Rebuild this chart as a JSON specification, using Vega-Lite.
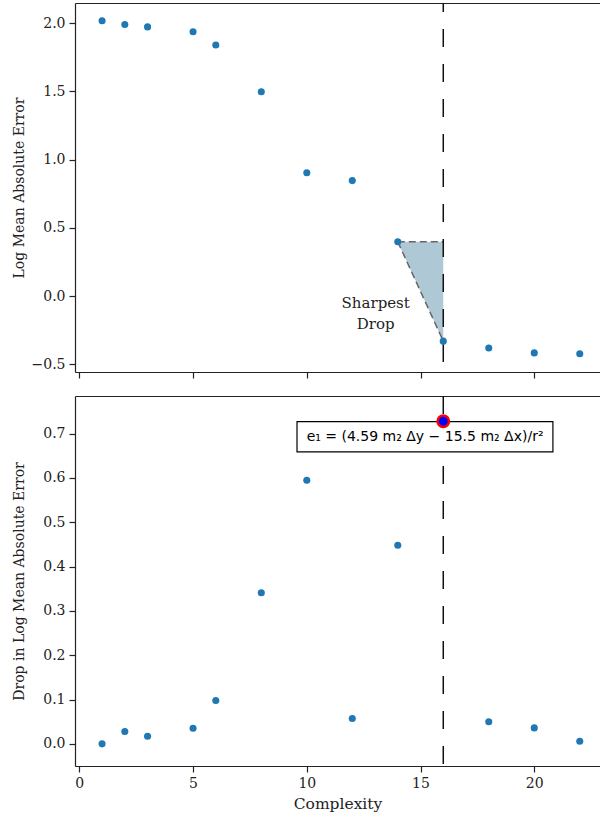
{
  "$schema": "https://vega.github.io/schema/vega-lite/v6.json",
  "padding": {"left": 12, "top": 2, "right": 0, "bottom": 0},
  "background": "white",
  "datasets": {
    "pts": [
      {"complexity": 1, "lmae": 2.017, "drop": 0.0},
      {"complexity": 2, "lmae": 1.989, "drop": 0.028},
      {"complexity": 3, "lmae": 1.972, "drop": 0.017},
      {"complexity": 5, "lmae": 1.937, "drop": 0.035},
      {"complexity": 6, "lmae": 1.839, "drop": 0.098},
      {"complexity": 8, "lmae": 1.497, "drop": 0.341},
      {"complexity": 10, "lmae": 0.903, "drop": 0.595},
      {"complexity": 12, "lmae": 0.846, "drop": 0.057},
      {"complexity": 14, "lmae": 0.398, "drop": 0.448},
      {"complexity": 16, "lmae": -0.33, "drop": 0.728},
      {"complexity": 18, "lmae": -0.38, "drop": 0.05},
      {"complexity": 20, "lmae": -0.416, "drop": 0.036},
      {"complexity": 22, "lmae": -0.422, "drop": 0.006}
    ]
  },
  "config": {
    "font": "DejaVu Serif",
    "view": {"stroke": null},
    "axis": {
      "labelFont": "DejaVu Serif",
      "titleFont": "DejaVu Serif",
      "labelFontSize": 14,
      "titleFontSize": 14,
      "titleFontWeight": "normal",
      "labelColor": "#222",
      "titleColor": "#222",
      "domainColor": "#222",
      "domainWidth": 1.2,
      "tickColor": "#222",
      "tickWidth": 1.2,
      "tickSize": 6,
      "labelPadding": 4,
      "grid": false
    }
  },
  "spacing": 16,
  "vconcat": [
    {
      "width": 525,
      "height": 369,
      "resolve": {"scale": {"x": "shared", "y": "shared"}, "axis": {"x": "independent"}},
      "layer": [
        {
          "data": {"values": [
            {"complexity": 14, "y": 0.398, "y2": 0.398},
            {"complexity": 16, "y": -0.33, "y2": 0.398}
          ]},
          "mark": {"type": "area", "color": "#aec8d6", "opacity": 1},
          "encoding": {
            "x": {"field": "complexity", "type": "quantitative", "axis": {"orient": "top", "ticks": false, "labels": false, "title": null, "domain": true}},
            "y": {"field": "y", "type": "quantitative"},
            "y2": {"field": "y2"}
          }
        },
        {
          "data": {"values": [
            {"seg": "top", "complexity": 14, "y": 0.398},
            {"seg": "top", "complexity": 16, "y": 0.398},
            {"seg": "hyp", "complexity": 14, "y": 0.398},
            {"seg": "hyp", "complexity": 16, "y": -0.33}
          ]},
          "mark": {"type": "line", "color": "#666", "strokeWidth": 1.5, "strokeDash": [7, 4]},
          "encoding": {
            "x": {"field": "complexity", "type": "quantitative", "axis": null},
            "y": {"field": "y", "type": "quantitative"},
            "detail": {"field": "seg"}
          }
        },
        {
          "data": {"values": [{"complexity": 16}]},
          "mark": {"type": "rule", "color": "#111", "strokeWidth": 1.5, "strokeDash": [18, 17], "strokeDashOffset": 9},
          "encoding": {"x": {"field": "complexity", "type": "quantitative", "axis": null}}
        },
        {
          "data": {"name": "pts"},
          "mark": {"type": "circle", "color": "#1f77b4", "opacity": 1, "size": 50},
          "encoding": {
            "x": {"field": "complexity", "type": "quantitative",
                  "scale": {"domain": [-0.19, 22.89], "nice": false, "zero": false},
                  "axis": {"title": null, "labels": false, "values": [0, 5, 10, 15, 20]}},
            "y": {"field": "lmae", "type": "quantitative",
                  "scale": {"domain": [-0.556, 2.147], "nice": false, "zero": false},
                  "axis": {"title": "Log Mean Absolute Error", "titleFontSize": 14, "titleFont": "DejaVu Serif", "values": [-0.5, 0, 0.5, 1, 1.5, 2], "format": ".1f", "titlePadding": 5}}
          }
        },
        {
          "data": {"values": [{"complexity": 13.03, "y": -0.05, "label": ["Sharpest", "Drop"]}]},
          "mark": {"type": "text", "font": "DejaVu Serif", "fontSize": 15, "align": "center", "baseline": "middle", "color": "#222", "lineHeight": 21},
          "encoding": {
            "x": {"field": "complexity", "type": "quantitative", "axis": null},
            "y": {"field": "y", "type": "quantitative"},
            "text": {"field": "label"}
          }
        }
      ]
    },
    {
      "width": 525,
      "height": 370,
      "resolve": {"scale": {"x": "shared", "y": "shared"}, "axis": {"x": "independent"}},
      "layer": [
        {
          "data": {"values": [{"complexity": 16}]},
          "mark": {"type": "rule", "color": "#111", "strokeWidth": 1.5, "strokeDash": [18, 17], "strokeDashOffset": 0},
          "encoding": {"x": {"field": "complexity", "type": "quantitative", "axis": {"orient": "top", "ticks": false, "labels": false, "title": null, "domain": true}}}
        },
        {
          "data": {"name": "pts"},
          "mark": {"type": "circle", "color": "#1f77b4", "opacity": 1, "size": 50},
          "encoding": {
            "x": {"field": "complexity", "type": "quantitative",
                  "scale": {"domain": [-0.19, 22.89], "nice": false, "zero": false},
                  "axis": {"title": "Complexity", "titleFontSize": 15.5, "titleFont": "DejaVu Serif", "values": [0, 5, 10, 15, 20], "format": "d", "titlePadding": 6}},
            "y": {"field": "drop", "type": "quantitative",
                  "scale": {"domain": [-0.05, 0.785], "nice": false, "zero": false},
                  "axis": {"title": "Drop in Log Mean Absolute Error", "titleFontSize": 14, "titleFont": "DejaVu Serif", "values": [0, 0.1, 0.2, 0.3, 0.4, 0.5, 0.6, 0.7], "format": ".1f", "titlePadding": 16}}
          }
        },
        {
          "data": {"values": [{"x1": 9.57, "x2": 20.82, "y1": 0.727, "y2": 0.659}]},
          "mark": {"type": "rect", "fill": "white", "stroke": "black", "strokeWidth": 1.2},
          "encoding": {
            "x": {"field": "x1", "type": "quantitative", "axis": null},
            "x2": {"field": "x2"},
            "y": {"field": "y1", "type": "quantitative"},
            "y2": {"field": "y2"}
          }
        },
        {
          "data": {"values": [{"complexity": 15.2, "y": 0.693, "label": "e₁ = (4.59 m₂ Δy − 15.5 m₂ Δx)/r²"}]},
          "mark": {"type": "text", "font": "DejaVu Sans", "fontSize": 14, "align": "center", "baseline": "middle", "color": "black"},
          "encoding": {
            "x": {"field": "complexity", "type": "quantitative", "axis": null},
            "y": {"field": "y", "type": "quantitative"},
            "text": {"field": "label"}
          }
        },
        {
          "data": {"values": [{"complexity": 16, "drop": 0.728}]},
          "mark": {"type": "point", "filled": true, "fill": "#0000ff", "stroke": "#ff0000", "strokeWidth": 2.5, "size": 130, "opacity": 1, "fillOpacity": 1, "strokeOpacity": 1},
          "encoding": {
            "x": {"field": "complexity", "type": "quantitative", "axis": null},
            "y": {"field": "drop", "type": "quantitative"}
          }
        }
      ]
    }
  ]
}
